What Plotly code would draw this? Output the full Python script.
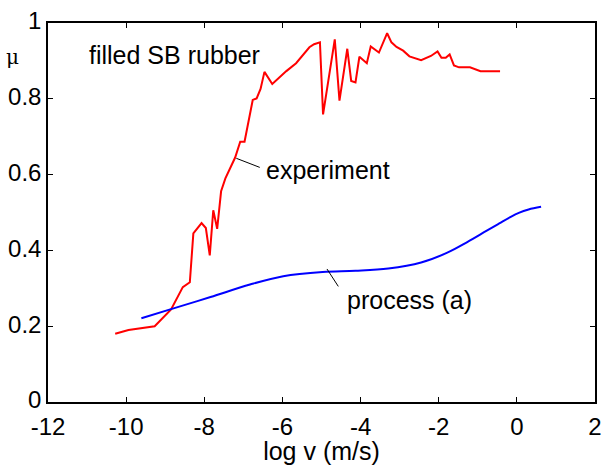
import plotly.graph_objects as go

# Friction coefficient of filled SB rubber vs. log sliding velocity
exp_logv = [-10.28, -9.94, -9.27, -8.85, -8.55, -8.37, -8.28, -8.07, -7.96, -7.86,
            -7.77, -7.67, -7.57, -7.46, -7.21, -7.08, -6.97, -6.76, -6.66, -6.56,
            -6.46, -6.26, -5.90, -5.65, -5.31, -5.19, -5.04, -4.96, -4.66, -4.54,
            -4.34, -4.24, -4.13, -4.03, -3.84, -3.74, -3.53, -3.32, -3.21, -3.08,
            -2.91, -2.75, -2.45, -2.20, -2.03, -1.93, -1.82, -1.72, -1.61, -1.48,
            -1.20, -0.93, -0.43]
exp_mu = [0.180, 0.190, 0.200, 0.244, 0.303, 0.316, 0.445, 0.472, 0.459, 0.387,
          0.506, 0.457, 0.556, 0.590, 0.645, 0.687, 0.687, 0.797, 0.801, 0.826,
          0.871, 0.839, 0.873, 0.894, 0.936, 0.944, 0.949, 0.759, 0.957, 0.795,
          0.932, 0.847, 0.843, 0.911, 0.894, 0.938, 0.922, 0.973, 0.949, 0.937,
          0.927, 0.912, 0.902, 0.913, 0.925, 0.908, 0.908, 0.917, 0.888, 0.883,
          0.883, 0.873, 0.873]

proc_logv = [-9.61, -8.85, -7.84, -6.83, -5.98, -4.97, -4.13, -3.29, -2.45, -1.78,
             -1.27, -0.77, -0.45, -0.18, 0.05, 0.30, 0.62]
proc_mu = [0.221, 0.245, 0.277, 0.310, 0.332, 0.343, 0.346, 0.352, 0.368, 0.394,
           0.422, 0.452, 0.471, 0.487, 0.499, 0.508, 0.515]

x_ticks = [-12, -10, -8, -6, -4, -2, 0, 2]
x_tick_text = ["-12", "-10", "-8", "-6", "-4", "-2", "0", "2"]
y_ticks = [0, 0.2, 0.4, 0.6, 0.8, 1.0]
y_tick_text = ["0", "0.2", "0.4", "0.6", "0.8", "1"]

# text labels and their leader lines (from curve point to label)
labels = [("filled SB rubber", -11.0, 0.915),
          ("experiment", -6.48, 0.611),
          ("process (a)", -4.41, 0.269)]
leaders = [((-7.18, 0.643), (-6.58, 0.619)),
           ((-4.86, 0.351), (-4.57, 0.305))]

FONT = "Liberation Sans, Arial, Helvetica, sans-serif"
FS = 25

fig = go.Figure()
fig.add_trace(go.Scatter(x=exp_logv, y=exp_mu, mode="lines",
                         line=dict(color="#ff0000", width=2)))
fig.add_trace(go.Scatter(x=proc_logv, y=proc_mu, mode="lines",
                         line=dict(color="#0000ff", width=2, shape="spline", smoothing=1.0)))

for (x0, y0), (x1, y1) in leaders:
    fig.add_shape(type="line", x0=x0, y0=y0, x1=x1, y1=y1, xref="x", yref="y",
                  line=dict(color="black", width=1))

for text, x, y in labels:
    fig.add_annotation(x=x, y=y, text=text, showarrow=False, xanchor="left",
                       yanchor="middle", font=dict(size=FS, color="black", family=FONT))

fig.add_annotation(x=-0.065, y=0.909, xref="paper", yref="y", text="μ", showarrow=False,
                   xanchor="center", yanchor="middle",
                   font=dict(size=20, color="black", family="DejaVu Serif, serif"))

axis_common = dict(showline=True, linecolor="black", linewidth=1.5, mirror="ticks",
                   ticks="inside", ticklen=5, tickwidth=1, tickcolor="black",
                   showgrid=False, zeroline=False,
                   tickfont=dict(size=24, color="black", family=FONT))

fig.update_layout(
    width=609, height=465,
    margin=dict(l=48, r=7, t=18, b=51),
    paper_bgcolor="white", plot_bgcolor="white",
    showlegend=False,
    xaxis=dict(range=[-12, 2], tickvals=x_ticks, ticktext=x_tick_text,
               ticklabelstandoff=2,
               title=dict(text="log v (m/s)", font=dict(size=FS, color="black", family=FONT),
                          standoff=1),
               **axis_common),
    yaxis=dict(range=[0, 1], tickvals=y_ticks, ticktext=y_tick_text,
               ticklabelshift=-2, **axis_common),
)

fig.write_html("out.html")
